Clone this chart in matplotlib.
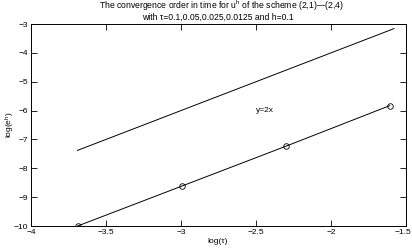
import numpy as np
import matplotlib.pyplot as plt
import matplotlib.transforms as mtransforms

plt.rcParams['font.family'] = ['Liberation Sans', 'DejaVu Sans']
plt.rcParams['mathtext.fontset'] = 'custom'
plt.rcParams['mathtext.rm'] = 'Liberation Sans'
plt.rcParams['mathtext.it'] = 'Liberation Sans'

# log(tau) and log(error)
log_tau = [-3.689, -2.996, -2.303, -1.609]
log_err = [-10.0, -8.62, -7.24, -5.83]

# reference slope line y=2x
ref_x = [-3.69, -1.58]
ref_y = [2 * v for v in ref_x]

xticks = [-4, -3.5, -3, -2.5, -2, -1.5]
xticklabels = ['\u22124', '\u22123.5', '\u22123', '\u22122.5', '\u22122', '\u22121.5']
yticks = [-10, -9, -8, -7, -6, -5, -4, -3]
yticklabels = ['\u221210', '\u22129', '\u22128', '\u22127', '\u22126', '\u22125', '\u22124', '\u22123']

W, H = 412, 249
fig = plt.figure(figsize=(W / 100, H / 100), dpi=100)
ax = fig.add_axes([31 / W, 1 - 226 / H, 375 / W, 202 / H])

ax.plot(ref_x, ref_y, '-', color='black', lw=0.7)
ax.plot(log_tau, log_err, '-o', color='black', lw=0.7, ms=4,
        mfc='none', mew=0.6)
ax.text(-2.5, -6.0, 'y=2x', fontsize=6, va='center', ha='left')

ax.set_xlim(-4, -1.5)
ax.set_ylim(-10, -3)
ax.set_xticks(xticks)
ax.set_xticklabels(xticklabels)
ax.set_yticks(yticks)
ax.set_yticklabels(yticklabels)
ax.tick_params(direction='in', top=True, right=True, labelsize=6,
               length=4, width=0.6, pad=2)
for s in ax.spines.values():
    s.set_linewidth(0.7)

# keep the last x tick label inside the figure
last = ax.get_xticklabels()[-1]
last.set_horizontalalignment('right')
last.set_transform(last.get_transform() +
                   mtransforms.ScaledTranslation(5 / 100, 0, fig.dpi_scale_trans))

fig.text(218 / W, 1 - 241 / H, 'log(\u03c4)', fontsize=6, ha='center', va='center')
fig.text(10 / W, 1 - 125 / H, 'log(e$^h$)', fontsize=6, ha='center', va='center',
         rotation=90)
fig.text(221 / W, 1 - 6 / H,
         'The convergence order in time for u$^h$ of the scheme (2,1)\u2014(2,4)',
         fontsize=6.2, ha='center', va='center')
fig.text(218 / W, 1 - 17.5 / H,
         'with \u03c4=0.1,0.05,0.025,0.0125 and h=0.1',
         fontsize=6.2, ha='center', va='center')

fig.savefig('out.png', dpi=100)
